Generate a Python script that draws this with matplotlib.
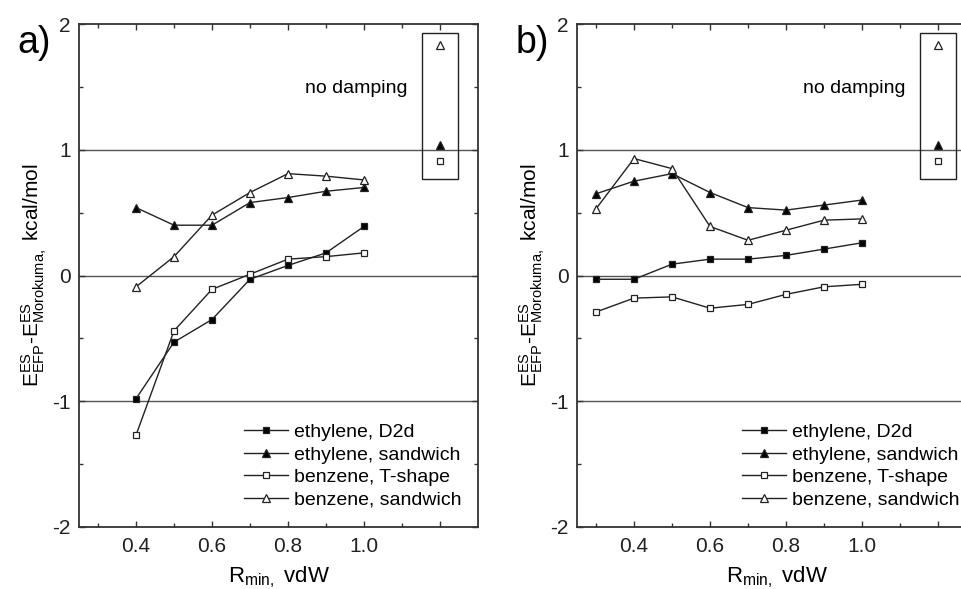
import matplotlib
matplotlib.use('Agg')
import matplotlib.pyplot as plt
from matplotlib.patches import Rectangle

plt.rcParams.update({
    'font.family': ['Liberation Sans', 'DejaVu Sans'],
    'font.size': 14,
    'mathtext.default': 'regular',
    'axes.unicode_minus': False,
    'axes.edgecolor': '#333333',
    'axes.linewidth': 1.3,
    'xtick.direction': 'in',
    'ytick.direction': 'in',
})

# panel a) data
x_a = [0.4, 0.5, 0.6, 0.7, 0.8, 0.9, 1.0]
eth_d2d_a = [-0.98, -0.53, -0.35, -0.03, 0.08, 0.18, 0.39]
eth_sand_a = [0.54, 0.40, 0.40, 0.58, 0.62, 0.67, 0.70]
benz_t_a = [-1.27, -0.44, -0.11, 0.01, 0.13, 0.15, 0.18]
benz_sand_a = [-0.09, 0.15, 0.48, 0.66, 0.81, 0.79, 0.76]

# panel b) data
x_b = [0.3, 0.4, 0.5, 0.6, 0.7, 0.8, 0.9, 1.0]
eth_d2d_b = [-0.03, -0.03, 0.09, 0.13, 0.13, 0.16, 0.21, 0.26]
eth_sand_b = [0.65, 0.75, 0.81, 0.66, 0.54, 0.52, 0.56, 0.60]
benz_t_b = [-0.29, -0.18, -0.17, -0.26, -0.23, -0.15, -0.09, -0.07]
benz_sand_b = [0.53, 0.93, 0.85, 0.39, 0.28, 0.36, 0.44, 0.45]

# "no damping" reference values (same for both panels)
x_nodamp = 1.2
nodamp_eth_sand = 1.04
nodamp_benz_t = 0.91
nodamp_benz_sand = 1.83

labels = ['ethylene, D2d', 'ethylene, sandwich', 'benzene, T-shape', 'benzene, sandwich']
styles = [('s', 'k', 4.5), ('^', 'k', 6), ('s', 'white', 4.5), ('^', 'white', 6)]

xticks = [0.4, 0.6, 0.8, 1.0, 1.2]
xticklabels = ['0.4', '0.6', '0.8', '1.0', '']
yticks = [-2, -1, 0, 1, 2]

LC = '#222222'

fig = plt.figure(figsize=(9.62, 5.89), dpi=100)
ax_a = fig.add_axes([79 / 962, 62 / 589, 399 / 962, 503 / 589])
ax_b = fig.add_axes([577 / 962, 62 / 589, 399 / 962, 503 / 589])


def draw(ax, x, series, tag):
    for ref in (-1, 0, 1):
        ax.axhline(ref, color='#555555', lw=1.0, zorder=1)
    for ys, (m, fc, ms), lab in zip(series, styles, labels):
        ax.plot(x, ys, color=LC, lw=1.0, marker=m, markersize=ms,
                markerfacecolor=fc, markeredgecolor=LC, markeredgewidth=0.9,
                label=lab, zorder=3)
    nd = [nodamp_eth_sand, nodamp_benz_t, nodamp_benz_sand]
    for val, (m, fc, ms) in zip(nd, styles[1:]):
        ax.plot([x_nodamp], [val], ls='none', marker=m, markersize=ms,
                markerfacecolor=fc, markeredgecolor=LC, markeredgewidth=0.9, zorder=4)
    ax.add_patch(Rectangle((1.152, 0.77), 0.096, 1.16, fill=False,
                           edgecolor=LC, lw=1.0, zorder=2))
    ax.text(0.98, 1.49, 'no damping', ha='center', va='center', fontsize=14)

    ax.set_xlim(0.25, 1.3)
    ax.set_ylim(-2, 2)
    ax.set_xticks(xticks)
    ax.set_xticklabels(xticklabels)
    ax.set_xticks([0.3, 0.5, 0.7, 0.9, 1.1], minor=True)
    ax.set_yticks(yticks)
    ax.set_yticks([-1.5, -0.5, 0.5, 1.5], minor=True)
    ax.tick_params(which='both', top=True, right=True, colors='#333333',
                   labelcolor='#222222', labelsize=15)
    ax.tick_params(which='major', length=4, width=1)
    ax.tick_params(which='minor', length=3, width=1)
    ax.tick_params(axis='x', pad=7)
    ax.tick_params(axis='y', pad=6)

    ax.set_xlabel(r'$R_{min,}$ vdW', fontsize=16, labelpad=6)
    ax.set_ylabel(r'$E^{ES}_{EFP}$-$E^{ES}_{Morokuma,}$ kcal/mol', fontsize=15, labelpad=2)
    ax.text(-0.113, 0.962, tag, transform=ax.transAxes, fontsize=27,
            ha='center', va='center')

    ax.legend(loc='lower left', bbox_to_anchor=(0.366, 0.0),
              frameon=False, fontsize=14, handlelength=2.3, handletextpad=0.3,
              labelspacing=0.25, borderaxespad=0.55)


draw(ax_a, x_a, [eth_d2d_a, eth_sand_a, benz_t_a, benz_sand_a], 'a)')
draw(ax_b, x_b, [eth_d2d_b, eth_sand_b, benz_t_b, benz_sand_b], 'b)')

fig.savefig('out.png', dpi=100)
